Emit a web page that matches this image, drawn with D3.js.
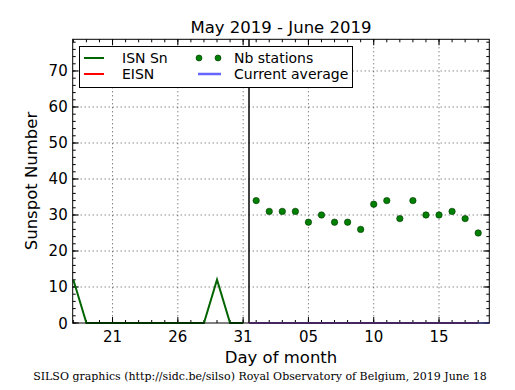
<!DOCTYPE html>
<html><head><meta charset="utf-8">
<script src="https://cdn.jsdelivr.net/npm/d3@7"></script>
<style>body{margin:0;background:#fff}svg{display:block}</style>
</head><body>
<script>
// Day index: May d -> d, June d -> 31 + d
const isnDays = [18,19,20,21,22,23,24,25,26,27,28,29,30,31];
const isnValues = [12,0,0,0,0,0,0,0,0,0,0,12,0,0];
const stationDays = [32,33,34,35,36,37,38,39,40,41,42,43,44,45,46,47,48,49];
const stationValues = [34,31,31,31,28,30,28,28,26,33,34,29,34,30,30,31,29,25];
const eisnDays = [31.45,49];
const eisnValues = [0,0];
const avgDays = [31.45,49.85];
const avgValues = [0,0];
const monthSeparator = 31.45;
const xTickDays = [21,26,31,36,41,46];
const xTickLabels = ["21","26","31","05","10","15"];
const yTicks = [0,10,20,30,40,50,60,70];

const W=515,H=390;
const L=72.7,R=489.3,T=39.3,B=323;
const svg=d3.select("body").append("svg").attr("width",W).attr("height",H);
const x=d3.scaleLinear().domain([17.95,49.85]).range([L,R]);
const y=d3.scaleLinear().domain([0,78.8]).range([B,T]);
const font="DejaVu Sans";

// grid
const g=svg.append("g");
g.selectAll(".vg").data(xTickDays).join("line")
 .attr("x1",d=>x(d)).attr("x2",d=>x(d)).attr("y1",T).attr("y2",B)
 .attr("stroke","#000").attr("stroke-width",0.7).attr("stroke-dasharray","1,3");
g.selectAll(".hg").data(yTicks.filter(v=>v>0)).join("line")
 .attr("x1",L).attr("x2",R).attr("y1",d=>y(d)).attr("y2",d=>y(d))
 .attr("stroke","#000").attr("stroke-width",0.7).attr("stroke-dasharray","1,3");

// ticks (inward, all sides)
const minorX=d3.range(18,50);
const minorY=d3.range(0,79,2);
function tickLines(data,isX,len){
  data.forEach(d=>{
    if(isX){
      g.append("line").attr("x1",x(d)).attr("x2",x(d)).attr("y1",B).attr("y2",B-len).attr("stroke","#000");
      g.append("line").attr("x1",x(d)).attr("x2",x(d)).attr("y1",T).attr("y2",T+len).attr("stroke","#000");
    } else {
      g.append("line").attr("y1",y(d)).attr("y2",y(d)).attr("x1",L).attr("x2",L+len).attr("stroke","#000");
      g.append("line").attr("y1",y(d)).attr("y2",y(d)).attr("x1",R).attr("x2",R-len).attr("stroke","#000");
    }
  });
}
tickLines(minorX,true,3);
tickLines(xTickDays,true,6);
tickLines(minorY,false,3);
tickLines(yTicks,false,6);

// month separator
svg.append("line").attr("x1",x(monthSeparator)).attr("x2",x(monthSeparator))
 .attr("y1",T).attr("y2",B).attr("stroke","#000").attr("stroke-width",1.5);

const line=d3.line().x(d=>x(d[0])).y(d=>y(d[1]));
svg.append("path").datum(eisnDays.map((d,i)=>[d,eisnValues[i]])).attr("d",line)
 .attr("fill","none").attr("stroke","#ff0000").attr("stroke-width",2);
svg.append("path").datum(avgDays.map((d,i)=>[d,avgValues[i]])).attr("d",line)
 .attr("fill","none").attr("stroke","#6666ff").attr("stroke-width",2).attr("stroke-opacity",0.75);
svg.append("path").datum(isnDays.map((d,i)=>[d,isnValues[i]])).attr("d",line)
 .attr("fill","none").attr("stroke","#006400").attr("stroke-width",2);

svg.selectAll(".dot").data(stationDays.map((d,i)=>[d,stationValues[i]])).join("circle")
 .attr("cx",d=>x(d[0])).attr("cy",d=>y(d[1])).attr("r",3.2)
 .attr("fill","#008000").attr("stroke","#003300").attr("stroke-width",0.6);

// frame
svg.append("rect").attr("x",L).attr("y",T).attr("width",R-L).attr("height",B-T)
 .attr("fill","none").attr("stroke","#000").attr("stroke-width",1);

// tick labels
svg.selectAll(".xl").data(xTickDays).join("text")
 .attr("x",d=>x(d)).attr("y",342).attr("text-anchor","middle")
 .attr("font-family",font).attr("font-size",15).text((d,i)=>xTickLabels[i]);
svg.selectAll(".yl").data(yTicks).join("text")
 .attr("x",L-5).attr("y",d=>y(d)+5.5).attr("text-anchor","end")
 .attr("font-family",font).attr("font-size",15).text(d=>d);

// titles
svg.append("text").attr("x",281).attr("y",33).attr("text-anchor","middle")
 .attr("font-family",font).attr("font-size",16.5).text("May 2019 - June 2019");
svg.append("text").attr("x",281).attr("y",363).attr("text-anchor","middle")
 .attr("font-family",font).attr("font-size",16.5).text("Day of month");
svg.append("text").attr("transform","translate(37,181) rotate(-90)").attr("text-anchor","middle")
 .attr("font-family",font).attr("font-size",16.5).text("Sunspot Number");
svg.append("text").attr("x",260).attr("y",380).attr("text-anchor","middle")
 .attr("font-family","DejaVu Serif").attr("font-size",11)
 .text("SILSO graphics (http://sidc.be/silso) Royal Observatory of Belgium, 2019 June 18");

// legend
const lg=svg.append("g");
lg.append("rect").attr("x",79.5).attr("y",46.5).attr("width",273).attr("height",41)
 .attr("fill","#fff").attr("stroke","#000").attr("stroke-width",1);
const fs=14;
lg.append("line").attr("x1",84).attr("x2",104).attr("y1",58).attr("y2",58).attr("stroke","#006400").attr("stroke-width",2);
lg.append("text").attr("x",122).attr("y",63).attr("font-family",font).attr("font-size",fs).text("ISN Sn");
lg.append("line").attr("x1",84).attr("x2",104).attr("y1",74).attr("y2",74).attr("stroke","#ff0000").attr("stroke-width",2);
lg.append("text").attr("x",122).attr("y",79).attr("font-family",font).attr("font-size",fs).text("EISN");
[199,218].forEach(cx=>lg.append("circle").attr("cx",cx).attr("cy",58).attr("r",3)
 .attr("fill","#008000").attr("stroke","#003300").attr("stroke-width",0.6));
lg.append("text").attr("x",234).attr("y",63).attr("font-family",font).attr("font-size",fs).text("Nb stations");
lg.append("line").attr("x1",198).attr("x2",221).attr("y1",74).attr("y2",74).attr("stroke","#6666ff").attr("stroke-width",2.5);
lg.append("text").attr("x",234).attr("y",79).attr("font-family",font).attr("font-size",fs).text("Current average");
</script>
</body></html>
